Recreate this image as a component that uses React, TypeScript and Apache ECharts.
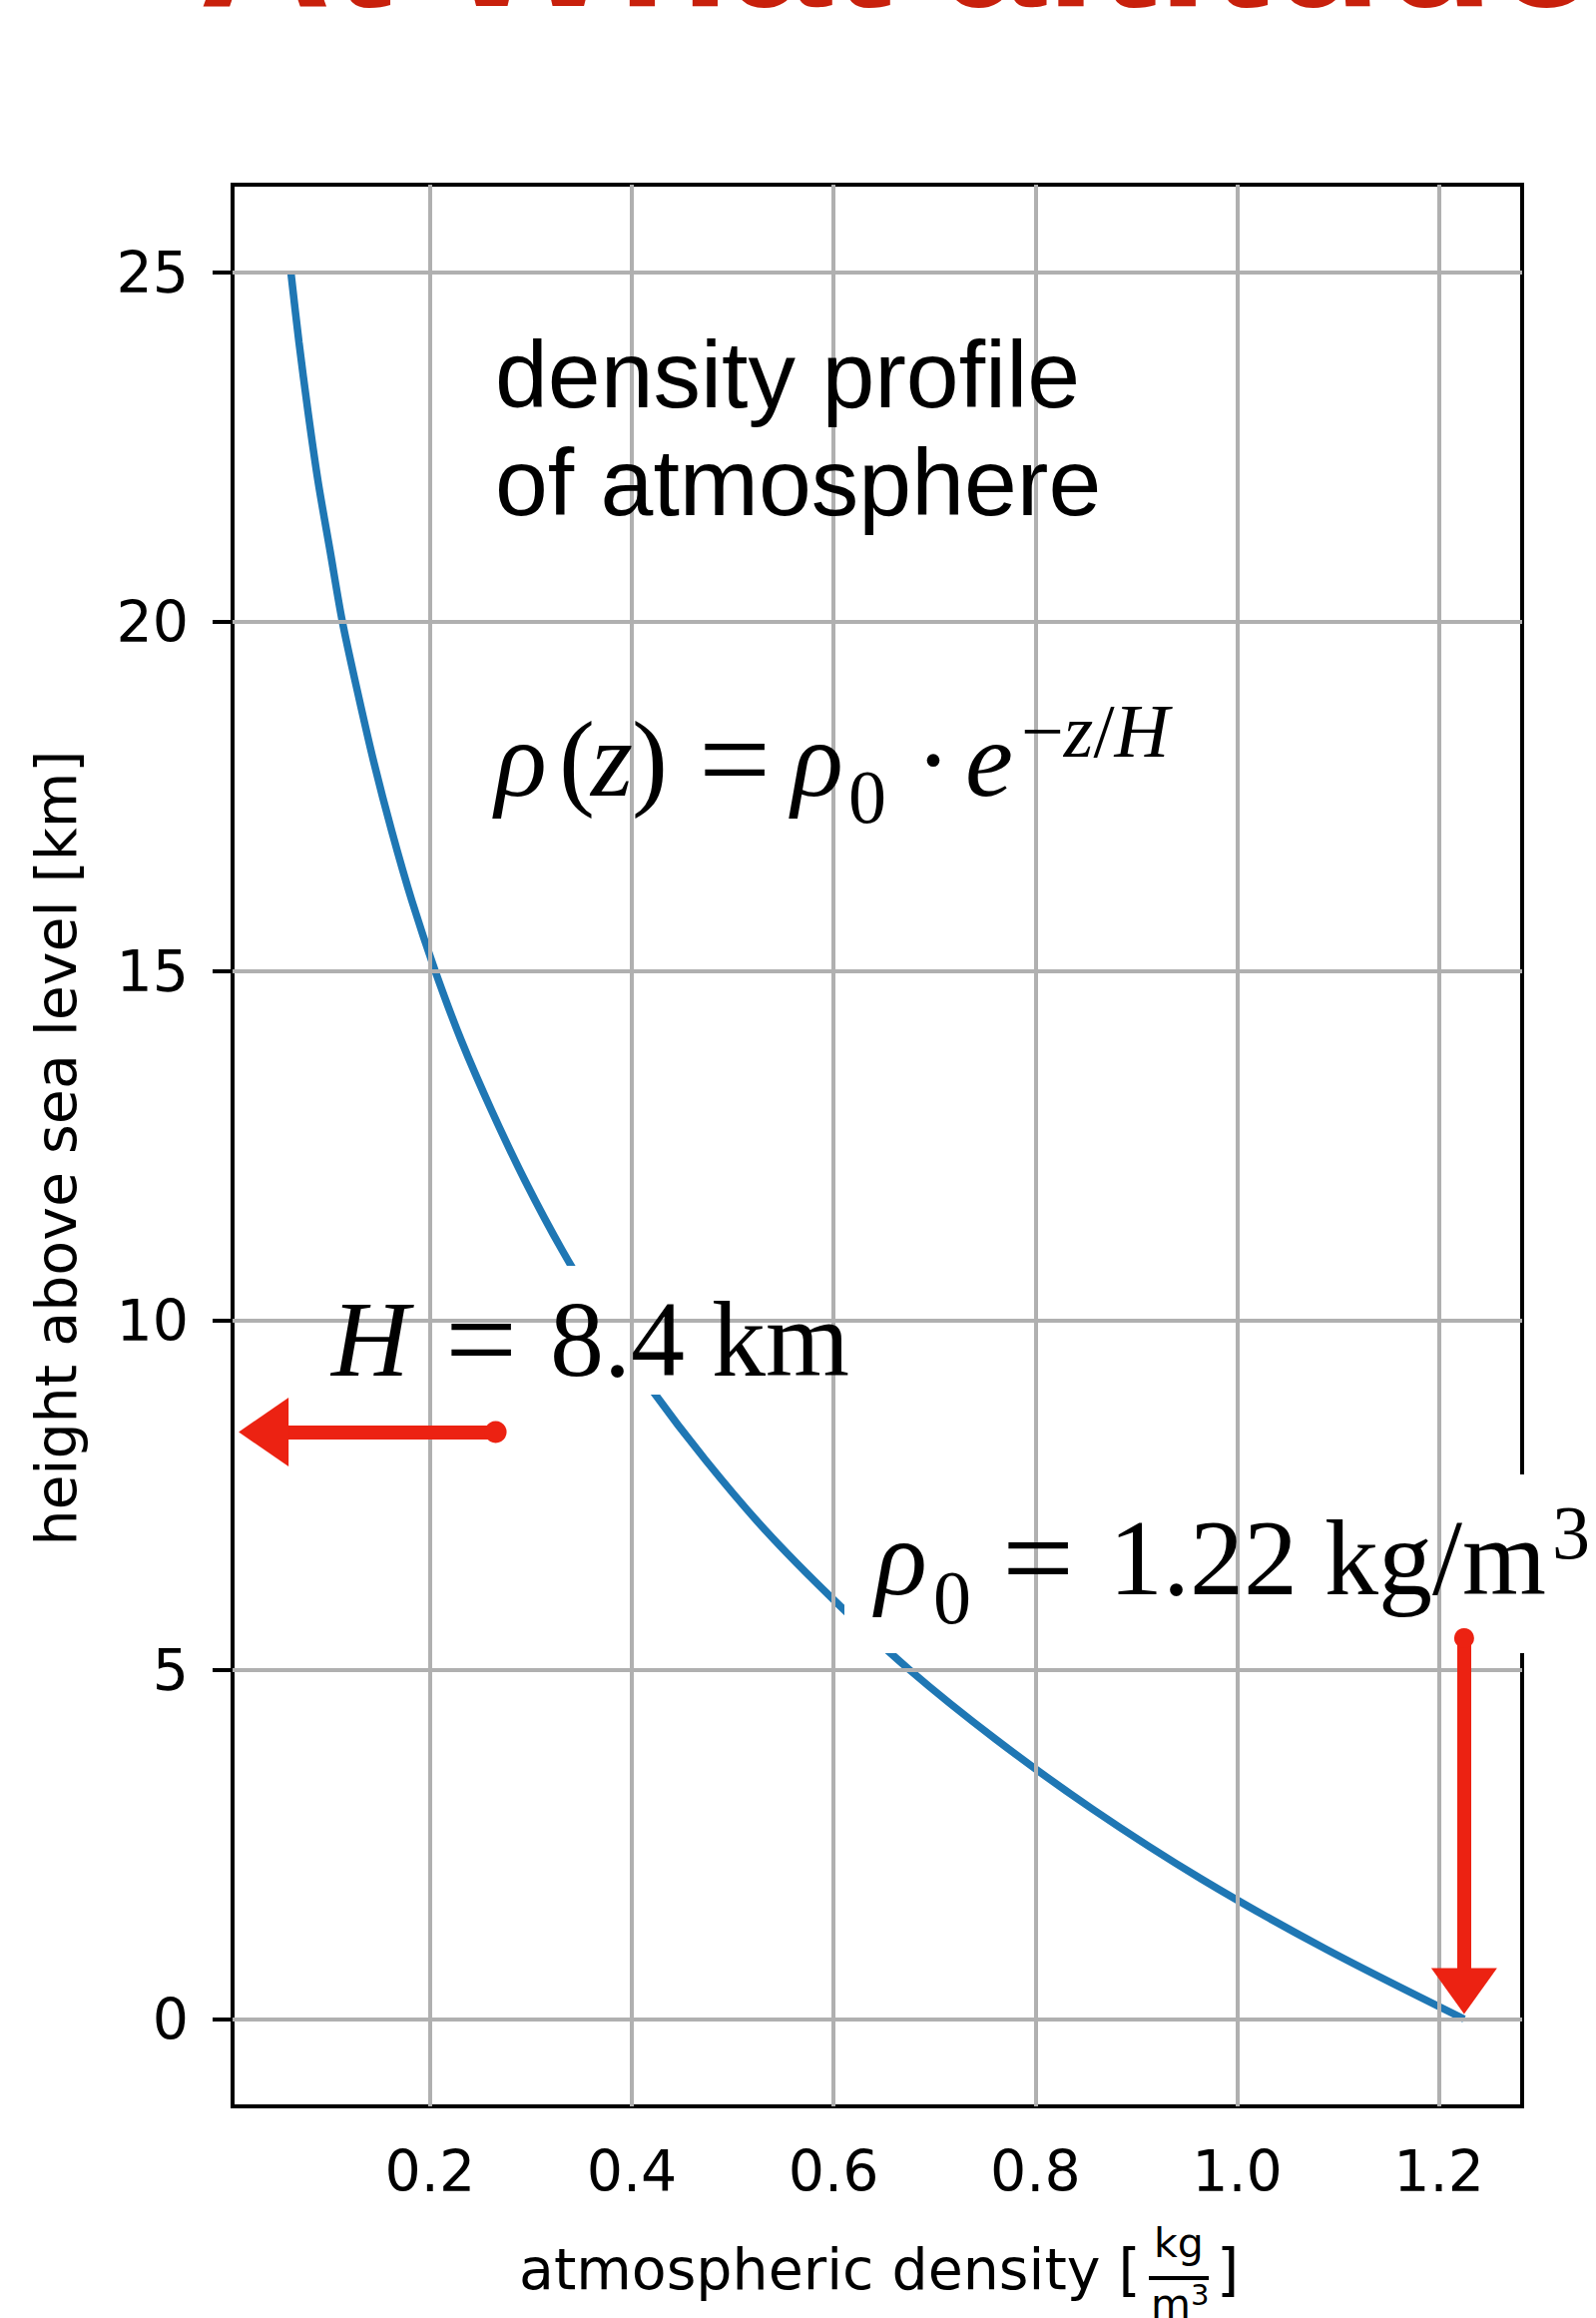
import React, { useEffect, useRef } from "react";
import * as echarts from "echarts";

// ---- data ----
const heightsKm = [0, 1, 2, 3, 4, 5, 6, 7, 8, 9, 10, 11, 12, 13, 14, 15, 16, 17, 18, 19, 20, 21, 22, 23, 24, 25];
const densityKgM3 = [
  1.225, 1.088, 0.965, 0.857, 0.761, 0.675, 0.6, 0.532, 0.473, 0.42, 0.373, 0.331, 0.294,
  0.261, 0.231, 0.205, 0.182, 0.162, 0.144, 0.128, 0.113, 0.101, 0.089, 0.079, 0.07, 0.062,
];
const xTickValues = [0.2, 0.4, 0.6, 0.8, 1.0, 1.2];
const yTickValues = [0, 5, 10, 15, 20, 25];
const xRange = [0.0042, 1.2825];
const yRange = [-1.25, 26.25];
// annotation arrows (data coordinates)
const hArrowPath = [[0.265, 8.4], [0.035, 8.4]];
const rhoArrowPath = [[1.225, 5.45], [1.225, 0.4]];

const SANS = "Liberation Sans";
const SERIF = "Liberation Serif";
const DJ = "DejaVu Sans";
const CENTRAL: Record<string, number> = { [SANS]: 0.3465, [SERIF]: 0.3375, [DJ]: 0.346 };

function txt(text: string, x: number, baseline: number, size: number, family: string, extra: any = {}) {
  const { italic, bold, fill, align, rich, z } = extra;
  return {
    type: "text",
    x,
    y: baseline - CENTRAL[family] * size,
    z: z ?? 6,
    silent: true,
    style: {
      text,
      fontSize: size,
      fontFamily: family,
      fontStyle: italic ? "italic" : "normal",
      fontWeight: bold ? "bold" : "normal",
      fill: fill ?? "#000",
      align: align ?? "left",
      verticalAlign: "middle",
      rich,
    },
  };
}

// "=" sign drawn a bit larger (math font look); centred on the math axis of a 106px line
function eq(x: number, baseline: number) {
  const axis = baseline - 0.26 * 106;
  return txt("=", x, axis + 0.26 * 128, 128, SERIF);
}

function box(x0: number, y0: number, x1: number, y1: number) {
  return { type: "rect", z: 5, silent: true, shape: { x: x0, y: y0, width: x1 - x0, height: y1 - y0 }, style: { fill: "#fff" } };
}

const RED = "#ec2212";

export default function App() {
  const ref = useRef<HTMLDivElement>(null);
  useEffect(() => {
    if (!ref.current) return;
    const chart = echarts.init(ref.current, null, { renderer: "svg" });
    const curve = heightsKm.map((h, i) => [densityKgM3[i], h]);
    const supRich = {
      u: { fontFamily: SERIF, fontSize: 76, fill: "#000" },
      i: { fontFamily: SERIF, fontSize: 76, fontStyle: "italic", fill: "#000" },
    };
    const option: any = {
      animation: false,
      backgroundColor: "#fff",
      grid: { left: 233, top: 185, right: 74, bottom: 212, show: true, borderColor: "#000", borderWidth: 4, z: 3 },
      xAxis: {
        type: "value",
        min: xRange[0],
        max: xRange[1],
        splitLine: { show: false },
        axisLine: { show: false },
        axisTick: { show: true, customValues: xTickValues, length: 20, lineStyle: { color: "#000", width: 4 } },
        axisLabel: {
          customValues: xTickValues,
          formatter: (v: number) => v.toFixed(1),
          fontSize: 57,
          fontFamily: DJ,
          color: "#000",
          margin: 36,
        },
      },
      yAxis: {
        type: "value",
        min: yRange[0],
        max: yRange[1],
        splitLine: { show: false },
        axisLine: { show: false },
        axisTick: { show: true, customValues: yTickValues, length: 20, lineStyle: { color: "#000", width: 4 } },
        axisLabel: {
          customValues: yTickValues,
          formatter: (v: number) => String(v),
          fontSize: 57,
          fontFamily: DJ,
          color: "#000",
          margin: 44,
        },
      },
      series: [
        {
          name: "grid",
          type: "line",
          data: [],
          z: 1,
          silent: true,
          markLine: {
            silent: true,
            symbol: ["none", "none"],
            label: { show: false },
            lineStyle: { color: "#b0b0b0", width: 4, type: "solid", opacity: 1 },
            data: [...xTickValues.map((v) => ({ xAxis: v })), ...yTickValues.map((v) => ({ yAxis: v }))],
          },
        },
        {
          name: "density",
          type: "line",
          data: curve,
          z: 2,
          smooth: 0.3,
          showSymbol: false,
          lineStyle: { color: "#1f77b4", width: 7.5 },
          silent: true,
        },
        {
          name: "arrows",
          type: "line",
          data: [],
          z: 10,
          silent: true,
          markLine: {
            silent: true,
            label: { show: false },
            lineStyle: { color: RED, width: 14, type: "solid", opacity: 1, cap: "round" },
            itemStyle: { color: RED },
            data: [
              [
                { coord: hArrowPath[0], symbol: "circle", symbolSize: 22 },
                { coord: hArrowPath[1], symbol: "triangle", symbolSize: [69, 50] },
              ],
              [
                { coord: rhoArrowPath[0], symbol: "circle", symbolSize: 20 },
                { coord: rhoArrowPath[1], symbol: "triangle", symbolSize: [66, 46] },
              ],
            ],
          },
        },
      ],
      graphic: [
        // title (cut off at top)
        txt("At What altitude", 199, 6, 184, SANS, { bold: true, fill: "#c8200c" }),
        // white boxes
        box(478, 315, 1135, 548),
        box(478, 634, 1205, 866),
        box(321, 1268, 891, 1397),
        box(846, 1477, 1606, 1656),
        // density profile text
        txt("density profile", 496, 408, 95, SANS),
        txt("of atmosphere", 496, 516, 95, SANS),
        // formula
        txt("ρ", 496, 797, 108, SERIF, { italic: true }),
        txt("(", 560, 797, 108, SERIF),
        txt("z", 592, 797, 108, SERIF, { italic: true }),
        txt(")", 633, 797, 108, SERIF),
        eq(700, 797),
        txt("ρ", 793, 797, 108, SERIF, { italic: true }),
        txt("0", 850, 824, 76, SERIF),
        txt("·", 917, 797, 108, SERIF),
        txt("e", 967, 797, 108, SERIF, { italic: true }),
        txt("{u|−}{i|z}{u|/}{i|H}", 1023, 758, 76, SERIF, { rich: supRich }),
        // H = 8.4 km
        txt("H", 332, 1378, 108, SERIF, { italic: true }),
        eq(446, 1378),
        txt("8.4 km", 551, 1378, 108, SERIF),
        // rho0 = 1.22 kg/m3
        txt("ρ", 877, 1597, 108, SERIF, { italic: true }),
        txt("0", 935, 1626, 76, SERIF),
        eq(1004, 1597),
        txt("1.22 kg/m", 1111, 1597, 108, SERIF),
        txt("3", 1555, 1561, 76, SERIF),
        // y axis label
        {
          type: "text",
          x: 56,
          y: 1150,
          rotation: Math.PI / 2,
          silent: true,
          style: {
            text: "height above sea level [km]",
            fontSize: 57,
            fontFamily: DJ,
            fill: "#000",
            align: "center",
            verticalAlign: "middle",
          },
        },
        // x axis label
        txt("atmospheric density [", 520, 2293, 57, DJ),
        txt("kg", 1181, 2261, 41, DJ, { align: "center" }),
        { type: "rect", silent: true, shape: { x: 1151, y: 2280, width: 60, height: 4 }, style: { fill: "#000" } },
        txt("m", 1153, 2322, 41, DJ),
        txt("3", 1193, 2309, 29, DJ),
        txt("]", 1219, 2293, 57, DJ),
      ],
    };
    chart.setOption(option);
    return () => chart.dispose();
  }, []);
  return <div ref={ref} style={{ position: "absolute", left: 0, top: 0, width: 1599, height: 2322 }} />;
}
